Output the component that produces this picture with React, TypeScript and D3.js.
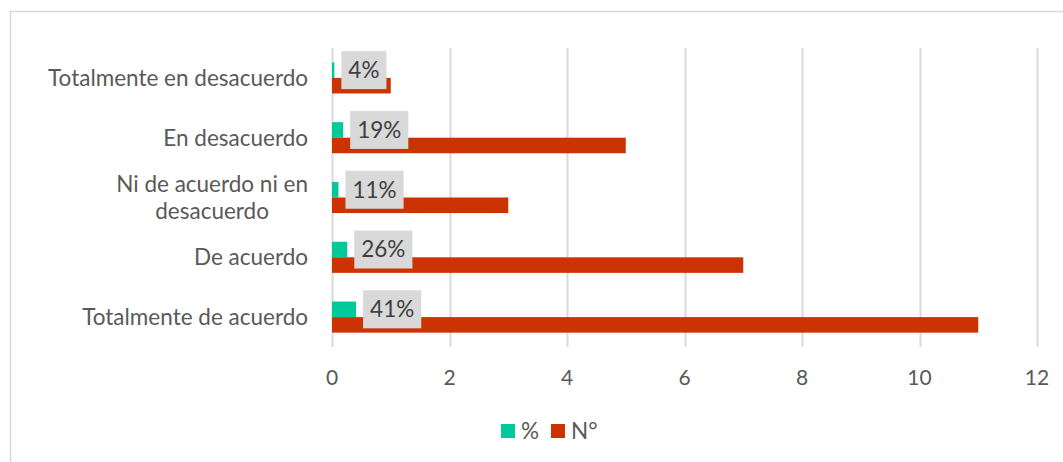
import React, { useEffect, useRef } from "react";
import * as d3 from "d3";

const categories = [
  "Totalmente en desacuerdo",
  "En desacuerdo",
  "Ni de acuerdo ni en desacuerdo",
  "De acuerdo",
  "Totalmente de acuerdo",
];
const categoryLines = [
  ["Totalmente en desacuerdo"],
  ["En desacuerdo"],
  ["Ni de acuerdo ni en", "desacuerdo"],
  ["De acuerdo"],
  ["Totalmente de acuerdo"],
];
const pctValues = [0.04, 0.19, 0.11, 0.26, 0.41];
const pctLabels = ["4%", "19%", "11%", "26%", "41%"];
const countValues = [1, 5, 3, 7, 11];
const xTicks = [0, 2, 4, 6, 8, 10, 12];
const seriesNames = ["%", "N°"];
const seriesColors = ["#00c99a", "#cc3300"];

const W = 1063;
const H = 462;
const FONT = "Lato, 'Open Sans', sans-serif";
const FS = 22.5;
const TFS = 21;

export default function App() {
  const ref = useRef<SVGSVGElement | null>(null);

  useEffect(() => {
    const svg = d3.select(ref.current);
    svg.selectAll("*").remove();

    const x = d3.scaleLinear().domain([0, 12]).range([332, 1037]);
    const y = d3.scaleBand<string>().domain(categories).range([48, 347]);
    const barH = y.bandwidth() * 0.26;

    svg
      .append("rect")
      .attr("x", 10.5)
      .attr("y", 11.5)
      .attr("width", 1200)
      .attr("height", 600)
      .attr("fill", "none")
      .attr("stroke", "#d9d9d9")
      .attr("stroke-width", 1.5);

    svg
      .append("g")
      .selectAll("line")
      .data(xTicks)
      .join("line")
      .attr("x1", (d) => Math.round(x(d)) + 0.5)
      .attr("x2", (d) => Math.round(x(d)) + 0.5)
      .attr("y1", 48)
      .attr("y2", 347)
      .attr("stroke", "#d9d9d9")
      .attr("stroke-width", 2);

    svg
      .append("g")
      .selectAll("text")
      .data(xTicks)
      .join("text")
      .attr("x", (d) => x(d))
      .attr("y", 378)
      .attr("dy", "0.35em")
      .attr("text-anchor", "middle")
      .attr("font-family", FONT)
      .attr("font-size", TFS)
      .attr("fill", "#595959")
      .text((d) => String(d));

    const cat = svg.append("g");
    categories.forEach((c, i) => {
      const lines = categoryLines[i];
      const cy = (y(c) as number) + y.bandwidth() / 2;
      const lh = 27;
      const t = cat
        .append("text")
        .attr("font-family", FONT)
        .attr("font-size", FS)
        .attr("fill", "#595959")
        .attr("text-anchor", "middle");
      lines.forEach((ln, j) => {
        t.append("tspan")
          .attr("x", 0)
          .attr("y", cy + (j - (lines.length - 1) / 2) * lh)
          .attr("dy", "0.35em")
          .text(ln);
      });
      const bb = (t.node() as SVGTextElement).getBBox();
      const shift = 308 - (bb.x + bb.width);
      t.selectAll("tspan").attr("x", shift);
    });

    const bars = svg.append("g");
    categories.forEach((c, i) => {
      const cy = (y(c) as number) + y.bandwidth() / 2;
      bars
        .append("rect")
        .attr("x", x(0))
        .attr("y", cy - barH)
        .attr("width", x(pctValues[i]) - x(0))
        .attr("height", barH)
        .attr("fill", seriesColors[0]);
      bars
        .append("rect")
        .attr("x", x(0))
        .attr("y", cy)
        .attr("width", x(countValues[i]) - x(0))
        .attr("height", barH)
        .attr("fill", seriesColors[1]);
    });

    const lbl = svg.append("g");
    categories.forEach((c, i) => {
      const cy = (y(c) as number) + y.bandwidth() / 2 - barH / 2;
      const left = x(pctValues[i]) + 7;
      const g = lbl.append("g");
      const rect = g.append("rect").attr("fill", "#d9d9d9");
      const t = g
        .append("text")
        .attr("font-family", FONT)
        .attr("font-size", FS)
        .attr("fill", "#404040")
        .attr("x", left + 7)
        .attr("y", cy)
        .attr("dy", "0.35em")
        .text(pctLabels[i]);
      const w = (t.node() as SVGTextElement).getComputedTextLength();
      rect
        .attr("x", left)
        .attr("y", cy - 19)
        .attr("width", w + 14)
        .attr("height", 38);
    });

    const leg = svg.append("g");
    const legX = [501, 551];
    seriesNames.forEach((s, i) => {
      leg
        .append("rect")
        .attr("x", legX[i])
        .attr("y", 424)
        .attr("width", 14)
        .attr("height", 14)
        .attr("fill", seriesColors[i]);
      leg
        .append("text")
        .attr("x", legX[i] + 20)
        .attr("y", 431)
        .attr("dy", "0.35em")
        .attr("font-family", FONT)
        .attr("font-size", FS)
        .attr("fill", "#595959")
        .text(s);
    });
  }, []);

  return (
    <svg
      ref={ref}
      width={W}
      height={H}
      style={{ position: "absolute", left: 0, top: 0, background: "#fff" }}
    />
  );
}
